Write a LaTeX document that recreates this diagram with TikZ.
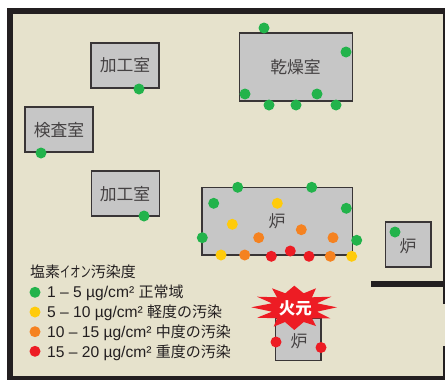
\documentclass[tikz,border=0pt]{standalone}
\usepackage{fontspec}
\setmainfont{Liberation Sans}
\newfontfamily\cjk{Noto Sans CJK JP}
\definecolor{floorc}{HTML}{E6E2CC}
\definecolor{roomc}{HTML}{C6C6C6}
\definecolor{wallc}{HTML}{231F20}
\definecolor{gr}{HTML}{22B34B}
\definecolor{ye}{HTML}{FFCB0B}
\definecolor{orc}{HTML}{F58220}
\definecolor{rd}{HTML}{ED1C24}
\tikzset{x=1pt,y=-1pt,
 room/.style={fill=roomc,draw=wallc!90,line width=1.1pt},
 roomlabel/.style={font=\cjk\fontsize{16.8}{17}\selectfont,text=wallc!85,inner sep=0pt},
 wall/.style={fill=wallc,draw=none},
 legendtext/.style={font=\fontsize{15.6}{16}\selectfont,text=wallc,inner sep=0pt,anchor=west},
 spot/.style={circle,fill=#1,draw=none,minimum size=11pt,inner sep=0pt}}
\newcommand{\spots}[2]{\foreach \px/\py in {#2}{\node[spot=#1] at (\px,\py) {};}}
\newcommand{\jp}[1]{{\cjk\fontsize{15}{16}\selectfont #1}}
\begin{document}
\begin{tikzpicture}
\useasboundingbox (0,0) rectangle (445,380);
\fill[white] (0,0) rectangle (445,380);
\fill[floorc] (13,14) rectangle (445,376);
\fill[wall] (7,7.5) rectangle (445,14);
\fill[wall] (7,7.5) rectangle (13,380);
\fill[wall] (7,376) rectangle (445,380);
\fill[wall] (443,14) rectangle (445,304.3);
\fill[wall] (443,346) rectangle (445,380);
\fill[wall] (371,280.7) rectangle (445,287.3);
\draw[room] (91,43) rectangle (159,88);
\draw[room] (25,107) rectangle (93,152);
\draw[room] (91.5,171) rectangle (159.5,216);
\draw[room] (239.5,33) rectangle (352.5,101);
\draw[room] (202,187.7) rectangle (352.3,255);
\draw[room] (385.5,222) rectangle (431,267);
\draw[room] (275.3,318) rectangle (321,360.5);
\node[roomlabel] (r1) at (125,65) {加工室};
\node[roomlabel] (r2) at (59,130) {検査室};
\node[roomlabel] (r3) at (125,194) {加工室};
\node[roomlabel] (r4) at (295.5,67) {乾燥室};
\node[roomlabel] (r5) at (277,221.5) {炉};
\node[roomlabel] (r6) at (408,246) {炉};
\node[roomlabel] (r7) at (299,341) {炉};
\spots{gr}{139/89,41/153,144/216,264/28,346/52,245/94,269/105,296/105,317/94,336/105,213.7/203.3,237.7/187.3,311.7/187.3,346.3/208.3,202.3/237.7,356.7/240.3,395/232}
\spots{ye}{232.3/224.3,277.3/203.3,221/255,351.7/256.3}
\spots{orc}{258.7/237.7,301.3/229.7,333/237.7,244.7/255,330.3/256.3}
\spots{rd}{271.3/256.3,290.3/251,309/256.3,276/342,321/347.5}
\fill[rd] (251.3,307.3) -- (272,303.3) -- (257,296.7) -- (277,297.3) -- (272,288.3) -- (285.3,293.3)
 -- (294.3,285.7) -- (303.7,293.3) -- (316,288.3) -- (312,297.3) -- (331.3,296.7) -- (317,303.3)
 -- (337,307.3) -- (317,311.7) -- (330.3,318.3) -- (312,318.3) -- (316,326) -- (303.7,322)
 -- (294.3,330) -- (285,322) -- (273.7,326.7) -- (277,318.3) -- (257,317.7) -- (272,311.7) -- cycle;
\node[font=\cjk\bfseries\fontsize{16.5}{17}\selectfont,text=white,inner sep=0pt] (fire) at (295.3,308) {火元};
\node[legendtext,font=\cjk\fontsize{15}{16}\selectfont] (lt) at (30,272) {塩素\scalebox{0.68}[1]{イオン}汚染度};
\spots{gr}{35/292.3}
\spots{ye}{35/312}
\spots{orc}{35/331.7}
\spots{rd}{35/351.3}
\node[legendtext] (l1) at (47,293) {1 – 5 µg/cm² \jp{正常域}};
\node[legendtext] (l2) at (47,312.5) {5 – 10 µg/cm² \jp{軽度の汚染}};
\node[legendtext] (l3) at (47,332.5) {10 – 15 µg/cm² \jp{中度の汚染}};
\node[legendtext] (l4) at (47,352.5) {15 – 20 µg/cm² \jp{重度の汚染}};
\end{tikzpicture}
\end{document}
